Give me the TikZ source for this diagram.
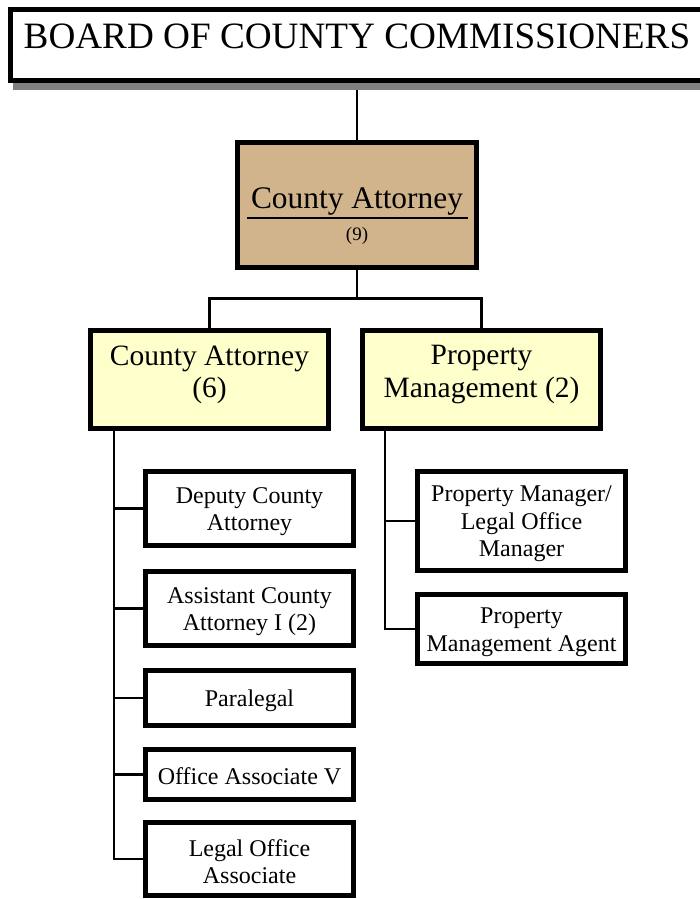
\documentclass[tikz,border=0pt]{standalone}
\usepackage{fontspec}
\setmainfont{Liberation Serif}
\usetikzlibrary{shadows,calc}
\pgfdeclarelayer{bg}
\pgfsetlayers{bg,main}
\definecolor{tanfill}{HTML}{D2B48C}
\definecolor{paleyellow}{HTML}{FFFFCC}
\definecolor{shadowgray}{HTML}{808080}
% invisible strut that lowers the first text line a little
\newcommand{\tallstrut}{\rule{0pt}{22pt}}

\begin{document}
\begin{tikzpicture}[x=1pt,y=-1pt,
  box/.style={draw=black, line width=5pt, outer sep=2.5pt, inner sep=2pt,
    fill=white, align=center},
  boardbox/.style={box, minimum width=693pt, minimum height=71pt,
    font=\fontsize{37.2}{40}\selectfont, text depth=18pt,
    drop shadow={shadow xshift=2.5pt, shadow yshift=-9.5pt,
      fill=shadowgray, opacity=1}},
  headbox/.style={box, fill=tanfill, minimum width=239pt, minimum height=125pt},
  midbox/.style={box, fill=paleyellow, minimum width=238pt, minimum height=98pt,
    font=\fontsize{29.5}{32.5}\selectfont,
    execute at end node={\rule[-16pt]{0pt}{1pt}}},
  staffbox/.style={box, minimum width=208pt,
    font=\fontsize{24}{27.5}\selectfont},
  conn/.style={line width=2.5pt},
  thinconn/.style={line width=1.5pt}]

\useasboundingbox (0,0) rectangle (699,899);

% board
\node[boardbox] (board) at (357,45) {BOARD OF COUNTY COMMISSIONERS};

% department head
\node[headbox] (ca9) at (357,205) {};
\node[anchor=base, inner sep=0pt, font=\fontsize{31.4}{32}\selectfont]
  (ca9title) at (357,208) {County Attorney};
\draw[line width=1.2pt] (247,218) -- (468,218);
\node[anchor=base, inner sep=0pt, font=\fontsize{19}{20}\selectfont]
  (ca9count) at (357,240) {(9)};

% divisions
\node[midbox] (ca6) at (209.5,379.5) {County Attorney\\(6)};
\node[midbox] (pm2) at (481.5,379.5) {Property\\Management (2)};

% county attorney staff
\node[staffbox, minimum height=74pt] (deputy)    at (249.5,508.5) {\tallstrut Deputy County\\Attorney};
\node[staffbox, minimum height=74pt] (assistant) at (249.5,608.5) {\tallstrut Assistant County\\Attorney I (2)};
\node[staffbox, minimum height=55pt] (paralegal) at (249.5,698)   {\tallstrut Paralegal};
\node[staffbox, minimum height=50pt] (office)    at (249.5,774.5) {\rule{0pt}{20pt}Office Associate V};
\node[staffbox, minimum height=73pt] (legal)     at (249.5,859)   {\tallstrut Legal Office\\Associate};

% property management staff
\node[staffbox, minimum height=99pt] (pm)  at (521.5,521) {\tallstrut Property Manager/\\Legal Office\\Manager};
\node[staffbox, minimum height=69pt] (pma) at (521.5,629) {\tallstrut Property\\Management Agent};

% connectors
\begin{pgfonlayer}{bg}
  \draw[thinconn] (board.south) -- (ca9.north);
  \coordinate (bar) at ($(ca9.south)+(0,28.5)$);
  \draw[conn] (ca9.south) -- (bar);
  \draw[conn] (bar) -| (ca6.north);
  \draw[conn] (bar) -| (pm2.north);

  \coordinate (tl) at ([xshift=26pt]ca6.south west);
  \draw[conn] (tl) |- (legal.west);
  \foreach \n in {deputy,assistant,paralegal,office}
    \draw[conn] (\n.west) -- (\n.west -| tl);

  \coordinate (tr) at ([xshift=25pt]pm2.south west);
  \draw[conn] (tr) |- (pma.west);
  \draw[conn] (pm.west) -- (pm.west -| tr);
\end{pgfonlayer}
\end{tikzpicture}
\end{document}
